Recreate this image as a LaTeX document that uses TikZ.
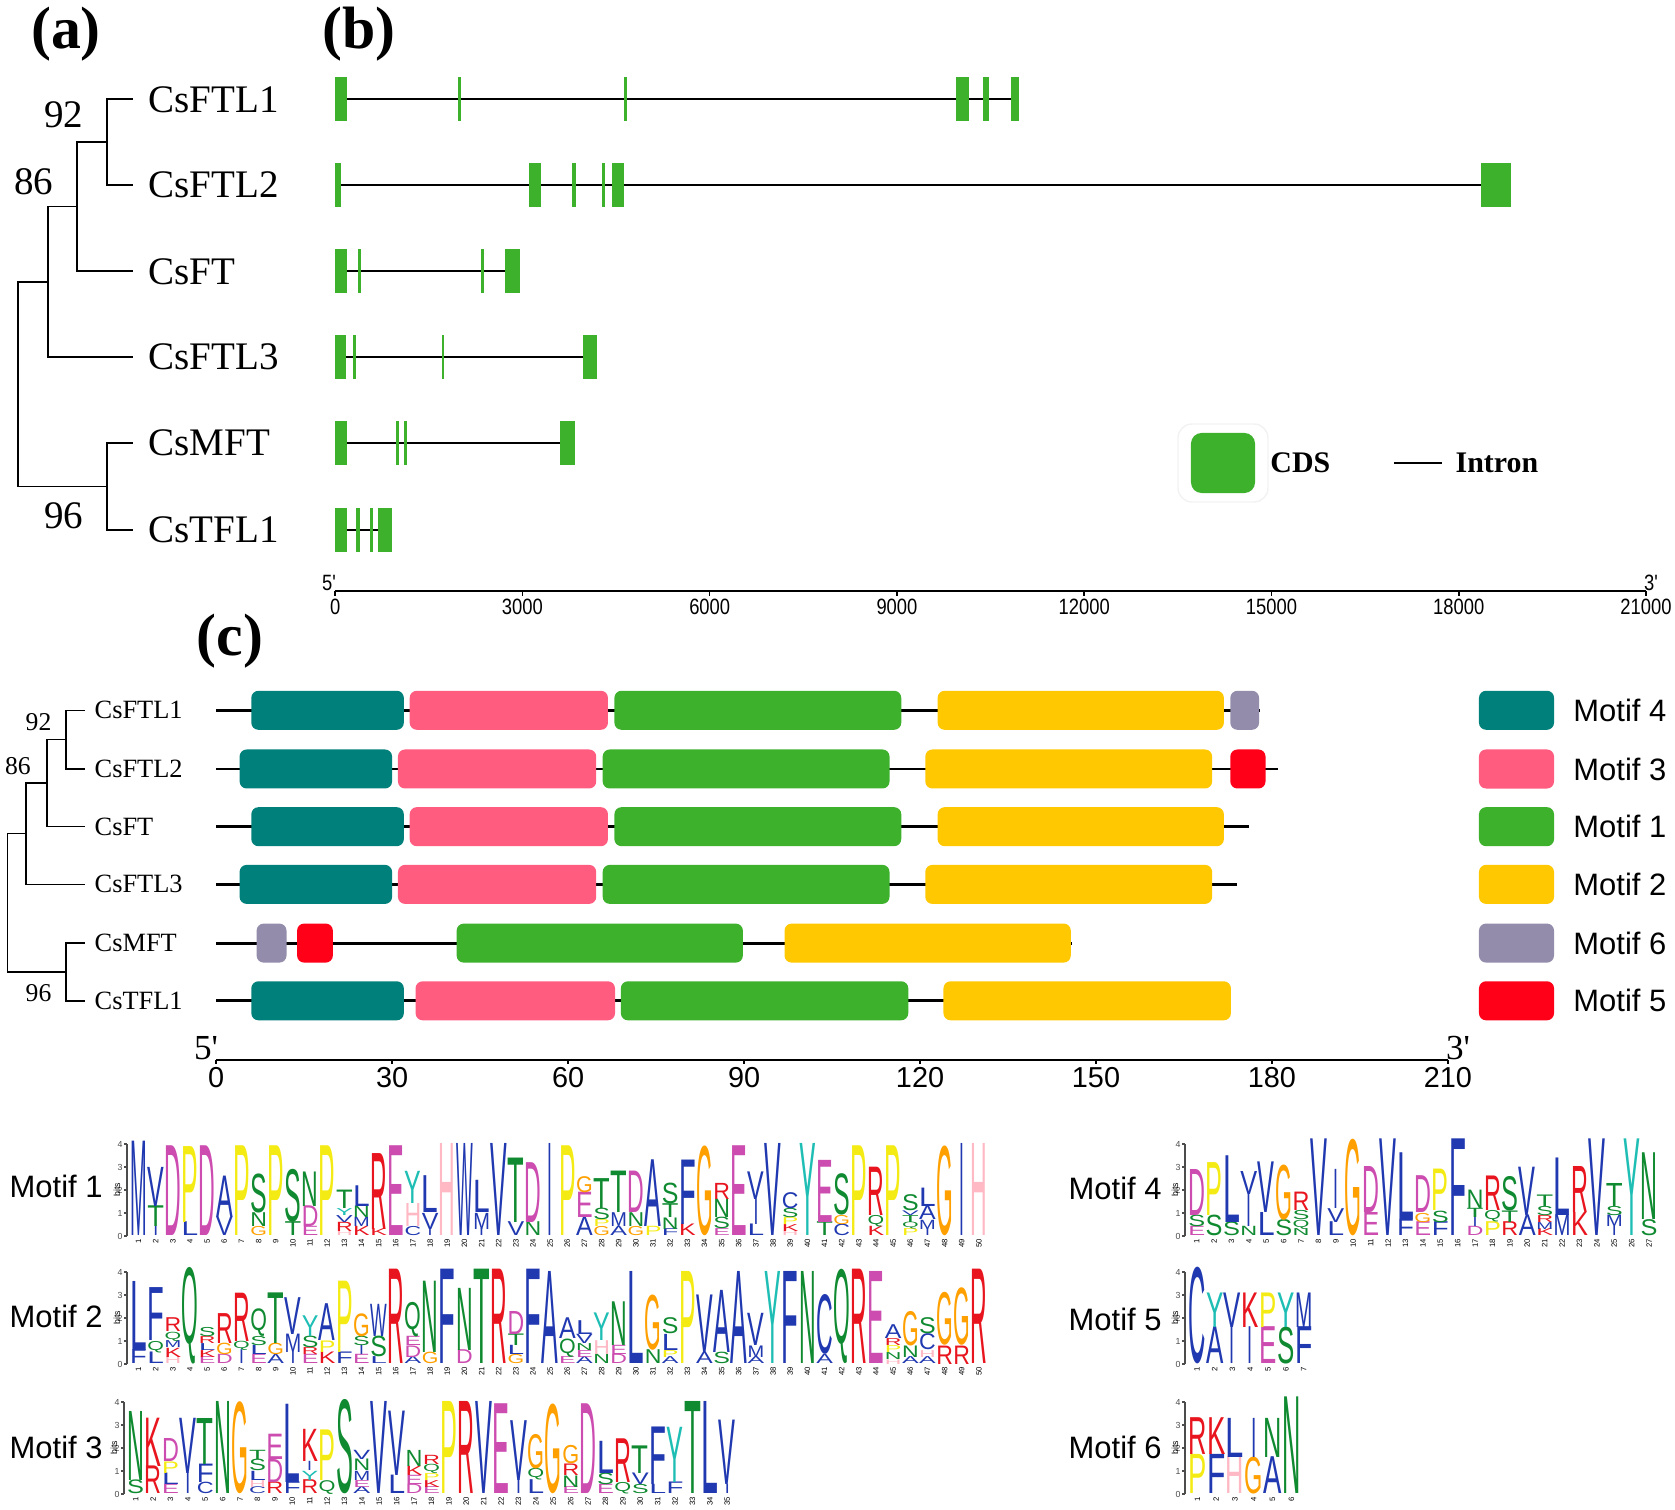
\documentclass[tikz,border=0pt]{standalone}
\usepackage{fontspec}
\setmainfont{Liberation Serif}
\setsansfont{Liberation Sans}
\usetikzlibrary{positioning,calc}

\definecolor{cdsgreen}{RGB}{61,176,44}
\definecolor{mfour}{RGB}{0,128,122}
\definecolor{mthree}{RGB}{255,92,128}
\definecolor{mone}{RGB}{61,176,44}
\definecolor{mtwo}{RGB}{255,200,0}
\definecolor{msix}{RGB}{147,140,171}
\definecolor{mfive}{RGB}{255,0,24}
% logo letter colours
\definecolor{lgblue}{HTML}{2038B0}
\definecolor{lggreen}{HTML}{0F8A30}
\definecolor{lgmag}{HTML}{CC4CB0}
\definecolor{lgred}{HTML}{E8141E}
\definecolor{lgpink}{HTML}{FFB9C4}
\definecolor{lgorange}{HTML}{FFA000}
\definecolor{lgyellow}{HTML}{F5EB14}
\definecolor{lgcyan}{HTML}{1EBEB4}
\colorlet{lA}{lgblue}\colorlet{lC}{lgblue}\colorlet{lF}{lgblue}\colorlet{lI}{lgblue}
\colorlet{lL}{lgblue}\colorlet{lV}{lgblue}\colorlet{lW}{lgblue}\colorlet{lM}{lgblue}
\colorlet{lN}{lggreen}\colorlet{lQ}{lggreen}\colorlet{lS}{lggreen}\colorlet{lT}{lggreen}
\colorlet{lD}{lgmag}\colorlet{lE}{lgmag}
\colorlet{lK}{lgred}\colorlet{lR}{lgred}
\colorlet{lH}{lgpink}\colorlet{lG}{lgorange}\colorlet{lP}{lgyellow}\colorlet{lY}{lgcyan}

\def\letterI{I}
% sequence logo: x0, baseline, column width, columns (bottom to top)
\newcommand{\motiflogo}[4]{%
  \draw[logoaxis] (#1-3,#2) -- (#1-3,#2-92);
  \foreach \b in {0,...,4}
    \draw[logoaxis] (#1-3,#2-\b*23) -- ++(-3,0) node[logotick] {\b};
  \node[logobits] at (#1-13,#2-46) {bits};
  \foreach \col [count=\i] in {#4} {
    \pgfmathsetmacro\xc{#1+(\i-0.5)*#3}
    \node[logopos] at (\xc,#2+1) {\i};
    \gdef\ybot{0}
    \foreach \ltr/\bits in \col {
      \pgfmathsetlengthmacro\lh{\bits*0.23cm}
      \ifx\ltr\letterI
        \pgfmathsetlengthmacro\lw{0.3*(#3-1)*0.01cm}
      \else
        \pgfmathsetlengthmacro\lw{(#3-0.5)*0.01cm}
      \fi
      \node[logoletter] at (\xc,#2-\ybot*23) {\resizebox*{\lw}{\lh}{\color{l\ltr}\ltr}};
      \pgfmathsetmacro\ynew{\ybot+\bits}
      \global\let\ybot\ynew
    }
  }
}

\begin{document}
\begin{tikzpicture}[x=0.01cm, y=-0.01cm,
  tree/.style={line width=0.45pt},
  leafa/.style={anchor=west, inner xsep=0.15cm, inner ysep=0pt, font=\fontsize{11.1}{12}\selectfont},
  leafc/.style={anchor=west, inner xsep=0.09cm, inner ysep=0pt, font=\fontsize{7.5}{8}\selectfont},
  boota/.style={inner sep=0pt, font=\fontsize{11.1}{12}\selectfont},
  bootc/.style={inner sep=0pt, font=\fontsize{7.3}{8}\selectfont},
  panel/.style={inner sep=0pt, font=\fontsize{17}{18}\selectfont\bfseries},
  intron/.style={line width=0.45pt},
  cds/.style={fill=cdsgreen},
  axisb/.style={line width=0.45pt},
  tickb/.style={anchor=north, inner sep=0.5pt, font=\sffamily\fontsize{6.3}{7}\selectfont},
  keytext/.style={anchor=west, inner sep=0pt, font=\fontsize{8.5}{9}\selectfont\bfseries},
  backbone/.style={line width=0.8pt},
  motif/.style={rounded corners=2pt},
  axisc/.style={line width=0.75pt},
  tickc/.style={anchor=north, inner sep=0.5pt, font=\sffamily\fontsize{8.2}{9}\selectfont},
  primec/.style={inner sep=0pt, font=\fontsize{10}{11}\selectfont},
  motifkey/.style={minimum width=0.75cm, minimum height=0.39cm, rounded corners=2pt, inner sep=0pt},
  motiftext/.style={anchor=west, inner sep=0pt, font=\sffamily\fontsize{8.8}{9}\selectfont},
  logoaxis/.style={line width=0.3pt, black!70},
  logotick/.style={anchor=east, inner sep=0.3pt, font=\sffamily\fontsize{2.5}{3}\selectfont},
  logobits/.style={rotate=90, inner sep=0pt, font=\sffamily\fontsize{2.5}{3}\selectfont},
  logopos/.style={rotate=90, anchor=east, inner sep=0.3pt, font=\sffamily\fontsize{2.2}{3}\selectfont},
  logoletter/.style={anchor=south, inner sep=0pt, outer sep=0pt, font=\sffamily}]
\useasboundingbox (0,0) rectangle (1675,1510);

% panel letters
\node[panel] (pa) at (66,34) {(a)};
\node[panel] (pb) at (359,34) {(b)};
\node[panel] (pc) at (230,641) {(c)};

% (a) tree
\node[leafa] (aFTL1) at (133,99.3) {CsFTL1};
\node[leafa] (aFTL2) at (133,184.8) {CsFTL2};
\node[leafa] (aFT) at (133,271.3) {CsFT};
\node[leafa] (aFTL3) at (133,356.8) {CsFTL3};
\node[leafa] (aMFT) at (133,443.2) {CsMFT};
\node[leafa] (aTFL1) at (133,529.8) {CsTFL1};
\coordinate (a92) at (107,142);
\coordinate (a86) at (77,206.5);
\coordinate (a3) at (48,282);
\coordinate (a96) at (107,486.5);
\coordinate (aroot) at (18,384);
\draw[tree] (a92) |- (aFTL1.west);
\draw[tree] (a92) |- (aFTL2.west);
\draw[tree] (a86) |- (a92);
\draw[tree] (a86) |- (aFT.west);
\draw[tree] (a3) |- (a86);
\draw[tree] (a3) |- (aFTL3.west);
\draw[tree] (a96) |- (aMFT.west);
\draw[tree] (a96) |- (aTFL1.west);
\draw[tree] (aroot) |- (a3);
\draw[tree] (aroot) |- (a96);
\node[boota] (ba92) at (64,115) {92};
\node[boota] (ba86) at (34,182) {86};
\node[boota] (ba96) at (64,516) {96};

% (b) gene structure, x in kb
\begin{scope}[xshift=3.35cm, x=0.62381cm]
% CsFTL1
\draw[intron] (0,99.3) -- (10.95,99.3);
\foreach \s/\e in {0/0.19,1.96/2.02,4.62/4.68,9.95/10.16,10.38/10.47,10.83/10.95}
  \fill[cds] (\s,77.3) rectangle (\e,121.3);
% CsFTL2
\draw[intron] (0,184.8) -- (18.83,184.8);
\foreach \s/\e in {0/0.09,3.10/3.29,3.80/3.86,4.27/4.32,4.44/4.63,18.35/18.83}
  \fill[cds] (\s,162.8) rectangle (\e,206.8);
% CsFT
\draw[intron] (0,271.3) -- (2.96,271.3);
\foreach \s/\e in {0/0.19,0.36/0.41,2.33/2.38,2.72/2.96}
  \fill[cds] (\s,249.3) rectangle (\e,293.3);
% CsFTL3
\draw[intron] (0,356.8) -- (4.20,356.8);
\foreach \s/\e in {0/0.17,0.29/0.34,1.71/1.75,3.97/4.20}
  \fill[cds] (\s,334.8) rectangle (\e,378.8);
% CsMFT
\draw[intron] (0,443.2) -- (3.84,443.2);
\foreach \s/\e in {0/0.19,0.98/1.03,1.10/1.15,3.60/3.84}
  \fill[cds] (\s,421.2) rectangle (\e,465.2);
% CsTFL1
\draw[intron] (0,529.8) -- (0.91,529.8);
\foreach \s/\e in {0/0.19,0.34/0.39,0.55/0.60,0.69/0.91}
  \fill[cds] (\s,507.8) rectangle (\e,551.8);
% scale
\draw[axisb] (0,591) -- (21,591);
\foreach \k/\t in {0/0,3/3000,6/6000,9/9000,12/12000,15/15000,18/18000,21/21000}
  \draw[axisb] (\k,591) -- (\k,596) node[tickb] {\scalebox{0.83}[1]{\t}};
\node[tickb, anchor=center] (b5) at (-0.1,583) {\scalebox{0.83}[1]{5\textquotesingle}};
\node[tickb, anchor=center] (b3) at (21.08,583) {\scalebox{0.83}[1]{3\textquotesingle}};
\end{scope}

% (b) legend
\draw[black!5, rounded corners=4pt] (1178,424) rectangle (1268,502);
\node[cds, minimum width=0.64cm, minimum height=0.60cm, rounded corners=3pt, inner sep=0pt] (cdskey) at (1223,463) {};
\node[keytext, right=0.14cm of cdskey] (cdslabel) {CDS};
\coordinate (intA) at (1394,463);
\coordinate (intB) at (1442,463);
\draw[intron] (intA) -- (intB);
\node[keytext] (intlabel) at (1455,463) {Intron};

% (c) tree
\node[leafc] (cFTL1) at (85,710.3) {CsFTL1};
\node[leafc] (cFTL2) at (85,769.0) {CsFTL2};
\node[leafc] (cFT) at (85,826.7) {CsFT};
\node[leafc] (cFTL3) at (85,884.4) {CsFTL3};
\node[leafc] (cMFT) at (85,943.1) {CsMFT};
\node[leafc] (cTFL1) at (85,1000.8) {CsTFL1};
\coordinate (c92) at (66,739.7);
\coordinate (c86) at (47,783);
\coordinate (c3) at (26,833.7);
\coordinate (c96) at (66,972);
\coordinate (croot) at (7.5,903);
\draw[tree] (c92) |- (cFTL1.west);
\draw[tree] (c92) |- (cFTL2.west);
\draw[tree] (c86) |- (c92);
\draw[tree] (c86) |- (cFT.west);
\draw[tree] (c3) |- (c86);
\draw[tree] (c3) |- (cFTL3.west);
\draw[tree] (c96) |- (cMFT.west);
\draw[tree] (c96) |- (cTFL1.west);
\draw[tree] (croot) |- (c3);
\draw[tree] (croot) |- (c96);
\node[bootc] (bc92) at (38.5,722) {92};
\node[bootc] (bc86) at (18,766) {86};
\node[bootc] (bc96) at (38.5,993) {96};

% (c) motif layout, x in aa
\begin{scope}[xshift=2.16cm, x=0.05862cm]
% CsFTL1
\draw[backbone] (0,710.3) -- (178,710.3);
\fill[motif, mfour] (6,690.8) rectangle (32,729.8);
\fill[motif, mthree] (33,690.8) rectangle (66.8,729.8);
\fill[motif, mone] (67.9,690.8) rectangle (116.8,729.8);
\fill[motif, mtwo] (123,690.8) rectangle (171.8,729.8);
\fill[motif, msix] (172.9,690.8) rectangle (177.8,729.8);
% CsFTL2
\draw[backbone] (0,769) -- (181,769);
\fill[motif, mfour] (4,749.5) rectangle (30,788.5);
\fill[motif, mthree] (31,749.5) rectangle (64.8,788.5);
\fill[motif, mone] (65.9,749.5) rectangle (114.8,788.5);
\fill[motif, mtwo] (120.9,749.5) rectangle (169.8,788.5);
\fill[motif, mfive] (172.9,749.5) rectangle (178.9,788.5);
% CsFT
\draw[backbone] (0,826.7) -- (176,826.7);
\fill[motif, mfour] (6,807.2) rectangle (32,846.2);
\fill[motif, mthree] (33,807.2) rectangle (66.8,846.2);
\fill[motif, mone] (67.9,807.2) rectangle (116.8,846.2);
\fill[motif, mtwo] (123,807.2) rectangle (171.8,846.2);
% CsFTL3
\draw[backbone] (0,884.4) -- (174,884.4);
\fill[motif, mfour] (4,864.9) rectangle (30,903.9);
\fill[motif, mthree] (31,864.9) rectangle (64.8,903.9);
\fill[motif, mone] (65.9,864.9) rectangle (114.8,903.9);
\fill[motif, mtwo] (120.9,864.9) rectangle (169.8,903.9);
% CsMFT
\draw[backbone] (0,943.1) -- (145.9,943.1);
\fill[motif, msix] (6.9,923.6) rectangle (12,962.6);
\fill[motif, mfive] (13.8,923.6) rectangle (19.9,962.6);
\fill[motif, mone] (41,923.6) rectangle (89.8,962.6);
\fill[motif, mtwo] (96.9,923.6) rectangle (145.7,962.6);
% CsTFL1
\draw[backbone] (0,1000.8) -- (172.9,1000.8);
\fill[motif, mfour] (6,981.3) rectangle (32,1020.3);
\fill[motif, mthree] (34,981.3) rectangle (68,1020.3);
\fill[motif, mone] (69,981.3) rectangle (118,1020.3);
\fill[motif, mtwo] (124,981.3) rectangle (173,1020.3);
% scale
\draw[axisc] (0,1060) -- (210,1060);
\foreach \t in {0,30,...,210}
  \draw[axisc] (\t,1060) -- (\t,1064) node[tickc] {\t};
\end{scope}
\node[primec] (c5) at (206,1048) {5\textquotesingle};
\node[primec] (c3p) at (1458,1048) {3\textquotesingle};

% (c) legend
\node[motifkey, fill=mfour] (k4) at (1516.5,710.3) {};
\node[motifkey, fill=mthree] (k3) at (1516.5,769) {};
\node[motifkey, fill=mone] (k1) at (1516.5,826.7) {};
\node[motifkey, fill=mtwo] (k2) at (1516.5,884.4) {};
\node[motifkey, fill=msix] (k6) at (1516.5,943.1) {};
\node[motifkey, fill=mfive] (k5) at (1516.5,1000.8) {};
\node[motiftext, right=0.18cm of k4] (t4) {Motif 4};
\node[motiftext, right=0.18cm of k3] (t3) {Motif 3};
\node[motiftext, right=0.18cm of k1] (t1) {Motif 1};
\node[motiftext, right=0.18cm of k2] (t2) {Motif 2};
\node[motiftext, right=0.18cm of k6] (t6) {Motif 6};
\node[motiftext, right=0.18cm of k5] (t5) {Motif 5};

% (d) sequence logos
\node[motiftext] (lab1) at (9,1186) {Motif 1};
\node[motiftext] (lab2) at (9,1316) {Motif 2};
\node[motiftext] (lab3) at (9,1447) {Motif 3};
\node[motiftext] (lab4) at (1068,1188) {Motif 4};
\node[motiftext] (lab5) at (1068,1319) {Motif 5};
\node[motiftext] (lab6) at (1068,1447) {Motif 6};

\motiflogo{130}{1236}{17.15}{{M/4.1},{I/0.4,T/0.9,V/1.7},{D/3.9},{L/0.6,P/3.3},{D/3.9},{V/0.8,A/1.8},{P/3.9},{G/0.4,N/0.6,S/1.7},{P/3.9},{T/0.6,S/2.3},
{E/0.4,D/0.9,N/1.5},{P/3.9},{H/0.2,R/0.4,V/0.3,Y/0.3,T/0.8},{K/0.4,M/0.4,N/0.5,L/0.9},{K/0.3,R/3.3},{E/3.9},{C/0.4,H/1.0,Y/1.4},{I/0.3,V/0.7,L/1.6},{H/4.0},{W/4.0},
{I/0.3,M/0.7,L/1.4},{V/4.0},{V/0.6,T/2.8},{N/0.6,D/2.6},{I/4.0},{P/3.9},{A/0.8,E/1.1,G/0.7},{G/0.4,P/0.3,S/0.5,T/1.3},{A/0.4,M/0.6,T/1.8},{G/0.4,N/0.6,D/1.8},
{P/0.4,A/2.9},{F/0.3,N/0.5,T/0.6,S/0.9},{K/0.5,F/2.8},{G/3.9},{E/0.3,S/0.5,N/0.8,R/0.7},{E/3.9},{L/0.5,I/1.1,V/1.2},{V/4.0},{H/0.2,K/0.3,P/0.3,S/0.4,C/0.7},{Y/4.0},
{T/0.6,E/2.7},{C/0.5,G/0.4,S/1.8},{P/3.9},{K/0.4,Q/0.5,R/2.1},{P/3.9},{P/0.3,Q/0.3,T/0.3,V/0.2,S/0.7},{I/0.3,M/0.4,A/0.6,L/0.8},{G/3.9},{I/4.0},{H/4.0}}

\motiflogo{130}{1364}{17.15}{{F/0.6,L/3.0},{L/0.5,Q/0.5,F/2.3},{H/0.3,K/0.4,M/0.3,Q/0.4,R/0.6},{Q/4.2},{E/0.3,K/0.3,L/0.3,R/0.3,S/0.4},{D/0.4,G/0.5,R/1.3},{I/0.6,Q/0.4,R/2.1},{E/0.4,L/0.4,S/0.4,Q/1.2},{A/0.4,G/0.5,T/2.2},{I/0.5,M/0.8,V/1.6},
{E/0.4,R/0.3,S/0.5,Y/0.9},{K/0.5,P/0.5,A/1.6},{F/0.5,P/3.1},{E/0.4,I/0.4,S/0.4,G/1.0},{L/0.3,S/0.9,W/1.4},{R/4.1},{A/0.3,D/0.5,E/0.4,Q/1.5},{G/0.5,N/3.1},{F/4.1},{D/0.6,N/2.7},
{T/4.1},{R/4.1},{G/0.4,L/0.4,T/0.5,D/1.0},{F/4.1},{A/4.0},{E/0.3,Q/0.8,A/0.9},{A/0.3,E/0.3,N/0.3,V/0.4,L/0.6},{N/0.4,H/0.6,Y/1.2},{D/0.4,E/0.4,N/1.9},{L/4.0},
{N/0.6,G/2.4},{A/0.3,P/0.3,L/0.7,S/0.7},{P/4.0},{A/0.5,V/2.5},{S/0.5,A/2.7},{A/4.0},{A/0.3,M/0.5,V/1.4},{Y/4.0},{F/4.0},{N/4.0},
{A/0.4,C/2.6},{Q/4.1},{R/4.1},{E/4.0},{H/0.2,N/0.3,P/0.3,R/0.3,A/0.6},{A/0.3,N/0.5,G/1.5},{A/0.3,H/0.3,C/0.7,S/0.7},{R/0.8,G/2.3},{R/0.8,G/2.5},{R/4.1}}

\motiflogo{127}{1494}{17.4}{{S/0.6,N/3.0},{R/1.2,K/2.1},{E/0.4,L/0.5,P/0.5,D/1.0},{I/0.9,V/2.4},{C/0.5,F/0.8,T/2.0},{N/4.0},{G/4.0},{C/0.3,H/0.3,L/0.4,S/0.5,T/0.4},{R/0.5,D/1.0,E/1.1},{F/0.5,L/3.4},
{R/0.6,Y/0.4,I/0.4,K/1.4},{Q/0.6,P/2.2},{S/4.1},{A/0.3,E/0.3,M/0.4,N/0.5,V/0.4},{V/4.0},{L/0.8,V/2.8},{D/0.4,E/0.4,K/0.4,N/0.7},{E/0.3,K/0.3,P/0.3,Q/0.4,R/0.4},{P/4.0},{R/4.0},
{V/4.0},{E/3.9},{I/0.6,V/2.6},{L/0.6,Q/0.5,G/1.5},{G/3.9},{E/0.3,N/0.5,R/0.5,G/0.8},{D/3.9},{E/0.4,S/0.5,L/1.4},{Q/0.5,R/1.9},{S/0.4,V/0.5,T/1.2},
{L/0.4,F/2.5},{F/0.5,Y/2.4},{T/4.0},{L/4.0},{I/0.4,V/2.8}}

\motiflogo{1188}{1236}{17.4}{{E/0.4,S/0.5,D/2.0},{S/0.9,P/2.3},{S/0.6,L/2.9},{N/0.4,I/1.4,V/1.0},{L/1.0,V/2.2},{S/0.7,G/2.4},{N/0.3,Q/0.4,S/0.4,R/0.8},{V/4.2},{L/0.6,V/0.6,I/1.7},{G/4.2},
{E/1.0,D/2.0},{V/4.2},{F/0.7,L/2.9},{E/0.6,G/0.4,D/1.6},{F/0.6,S/0.5,P/1.8},{F/4.2},{D/0.4,I/0.4,T/0.4,N/0.8},{P/0.6,Q/0.5,R/1.5},{R/0.6,T/0.5,S/1.5},{A/0.9,V/2.1},
{K/0.3,M/0.3,R/0.3,S/0.4,T/0.5},{M/0.9,L/2.5},{K/1.0,R/2.0},{V/4.2},{I/0.4,M/0.5,S/0.4,T/1.0},{Y/4.2},{S/0.7,N/2.9}}

\motiflogo{1188}{1364}{17.8}{{C/4.2},{A/1.6,Y/1.5},{I/1.6,V/1.5},{I/1.6,K/1.5},{E/1.6,P/1.5},{S/1.6,Y/1.5},{F/1.6,M/1.5}}

\motiflogo{1188}{1494}{18.8}{{P/1.7,R/1.6},{F/1.7,K/1.6},{H/1.6,L/1.7},{G/1.6,I/1.7},{A/1.6,N/1.7},{N/4.2}}
\end{tikzpicture}
\end{document}
